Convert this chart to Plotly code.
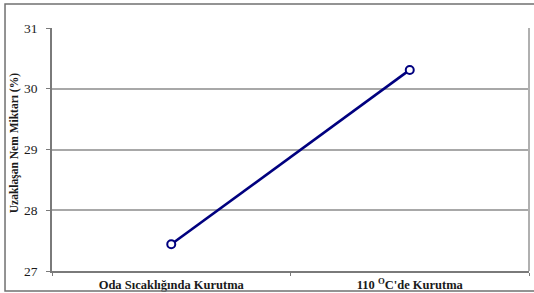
import plotly.graph_objects as go

categories = ["Oda Sıcaklığında Kurutma", "110 <sup>O</sup>C'de Kurutma"]
category_labels = ["<b>Oda Sıcaklığında Kurutma</b>", "<b>110 <sup>O</sup>C'de Kurutma</b>"]
values = [27.44, 30.31]
y_ticks = [27, 28, 29, 30, 31]

fig = go.Figure()
fig.add_trace(go.Scatter(
    x=categories, y=values, mode="lines+markers",
    line=dict(color="#00007f", width=2.6),
    marker=dict(symbol="circle", size=8, color="white",
                line=dict(color="#00007f", width=2)),
    cliponaxis=False,
))

fig.update_layout(
    width=534, height=293,
    margin=dict(l=52, r=5, t=28, b=22),
    paper_bgcolor="white", plot_bgcolor="white",
    showlegend=False,
    font=dict(family="Liberation Serif", color="#1a1a1a"),
    xaxis=dict(
        type="category", range=[-0.5, 1.5],
        tickvals=categories, ticktext=category_labels,
        showgrid=False, showline=True, linecolor="#7a7a7a", linewidth=1.5,
        ticks="outside", tickson="boundaries", ticklen=3, tickcolor="#7a7a7a",
        tickfont=dict(family="Liberation Serif", size=12.5, color="#1a1a1a"),
        ticklabelstandoff=1, automargin=False,
    ),
    yaxis=dict(
        range=[27, 31], tickvals=y_ticks,
        showgrid=True, gridcolor="#a8a8a8", gridwidth=1.5,
        showline=True, linecolor="#7a7a7a", linewidth=1.5,
        ticks="outside", ticklen=4, tickcolor="#7a7a7a",
        tickfont=dict(family="Liberation Serif", size=13.5, color="#1a1a1a"),
        ticklabelstandoff=6, zeroline=False, automargin=False,
    ),
    annotations=[dict(
        text="<b>Uzaklaşan Nem Miktarı (%)</b>", textangle=-90,
        xref="paper", yref="paper", x=-0.077, y=0.527,
        xanchor="center", yanchor="middle",
        showarrow=False, font=dict(family="Liberation Serif", size=11.5, color="#1a1a1a"),
    )],
    shapes=[
        dict(type="line", xref="paper", yref="paper", x0=1, x1=1, y0=0, y1=1,
             line=dict(color="#b0b0b0", width=2)),
        dict(type="rect", xref="paper", yref="paper", x0=-0.0985, x1=1.03,
             y0=-0.0823, y1=1.0988, line=dict(color="#707070", width=1.5)),
    ],
)

fig.write_html("out.html", config={"displayModeBar": False},
               post_script="document.body.style.margin='0';")
